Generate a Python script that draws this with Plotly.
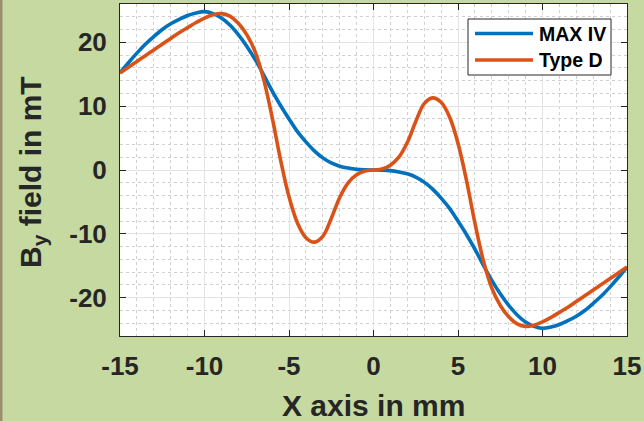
import plotly.graph_objects as go

# Transverse position along the magnet (mm)
x_mm = [-15, -14.5, -14, -13.5, -13, -12.5, -12, -11.5, -11, -10.5, -10,
        -9.5, -9, -8.5, -8, -7.5, -7, -6.5, -6, -5.5, -5,
        -4.5, -4, -3.5, -3, -2.5, -2, -1.5, -1, -0.5, 0,
        0.5, 1, 1.5, 2, 2.5, 3, 3.5, 4, 4.5, 5,
        5.5, 6, 6.5, 7, 7.5, 8, 8.5, 9, 9.5, 10,
        10.5, 11, 11.5, 12, 12.5, 13, 13.5, 14, 14.5, 15]

# Vertical field profile, MAX IV design (mT)
by_max_iv = [15.2, 16.8, 18.3, 19.7, 20.9, 22.0, 22.9, 23.6, 24.2, 24.6, 24.8,
             24.5, 23.8, 22.7, 21.2, 19.4, 17.3, 14.9, 12.4, 10.1, 8.0,
             6.0, 4.4, 3.0, 1.9, 1.1, 0.6, 0.3, 0.1, 0.02, 0.0,
             -0.02, -0.1, -0.3, -0.6, -1.1, -1.9, -3.0, -4.4, -6.0, -8.0,
             -10.1, -12.4, -14.9, -17.3, -19.4, -21.2, -22.7, -23.8, -24.5, -24.8,
             -24.6, -24.2, -23.6, -22.9, -22.0, -20.9, -19.7, -18.3, -16.8, -15.2]

# Vertical field profile, Type D design (mT)
by_type_d = [15.2, 16.1, 17.0, 17.9, 18.8, 19.7, 20.6, 21.5, 22.3, 23.1, 23.8,
             24.3, 24.5, 24.1, 23.0, 21.2, 18.5, 14.2, 8.3, 1.6, -4.2,
             -8.3, -10.6, -11.3, -10.4, -7.6, -4.3, -2.0, -0.75, -0.15, 0.0,
             0.15, 0.75, 2.0, 4.3, 7.6, 10.4, 11.3, 10.6, 8.3, 4.2,
             -1.6, -8.3, -14.2, -18.5, -21.2, -23.0, -24.1, -24.5, -24.3, -23.8,
             -23.1, -22.3, -21.5, -20.6, -19.7, -18.8, -17.9, -17.0, -16.1, -15.2]

series_names = ["MAX IV", "Type D"]
series_colors = ["#0072BD", "#D95319"]
x_ticks = [-15, -10, -5, 0, 5, 10, 15]
x_tick_text = ["-15", "-10", "-5", "0", "5", "10", "15"]
y_ticks = [-20, -10, 0, 10, 20]
y_tick_text = ["-20", "-10", "0", "10", "20"]

W, H = 644, 421
M_L, M_R, M_T, M_B = 120, 17, 4, 85
PLOT_W = W - M_L - M_R
PLOT_H = H - M_T - M_B
FONT = "Liberation Sans, Arial, sans-serif"
INK = "#262626"
BG = "#c5d9a0"


def px_x(p):
    """Pixel column -> paper x."""
    return (p - M_L) / PLOT_W


def px_y(p):
    """Pixel row -> paper y."""
    return (H - M_B - p) / PLOT_H


fig = go.Figure()
for name, ys, col in zip(series_names, [by_max_iv, by_type_d], series_colors):
    fig.add_trace(go.Scatter(
        x=x_mm, y=ys, mode="lines", name=name,
        line=dict(color=col, width=3.6, shape="spline", smoothing=1.0),
        showlegend=False,
    ))

axis_common = dict(
    showline=True, linecolor=INK, linewidth=1, mirror="ticks",
    ticks="inside", ticklen=6, tickcolor=INK, tickwidth=1,
    showgrid=True, gridcolor="#e3e3e3", gridwidth=1,
    zeroline=False,
    tickfont=dict(family=FONT, size=26, color=INK, weight="bold"),
)

fig.update_xaxes(
    range=[-15, 15], tickvals=x_ticks, ticktext=x_tick_text, ticklabelstandoff=7,
    minor=dict(dtick=1, tick0=0, showgrid=True, gridcolor="#d0d0d0",
               griddash="dot", gridwidth=1, ticks=""),
    **axis_common,
)
fig.update_yaxes(
    range=[-26, 26], tickvals=y_ticks, ticktext=y_tick_text, ticklabelstandoff=7,
    minor=dict(dtick=2, tick0=0, showgrid=True, gridcolor="#d0d0d0",
               griddash="dot", gridwidth=1, ticks=""),
    **axis_common,
)

shapes = []
annotations = []

# Legend box drawn by hand so the line samples have the long MATLAB look
shapes.append(dict(type="rect", xref="paper", yref="paper",
                   x0=px_x(468), x1=px_x(611), y0=px_y(75), y1=px_y(19),
                   line=dict(color=INK, width=1), fillcolor="white", layer="above"))
for i, (name, col) in enumerate(zip(series_names, series_colors)):
    row = 33.5 + i * 26.5
    shapes.append(dict(type="line", xref="paper", yref="paper",
                       x0=px_x(475), x1=px_x(533), y0=px_y(row), y1=px_y(row),
                       line=dict(color=col, width=3.6), layer="above"))
    annotations.append(dict(
        text=name, xref="paper", yref="paper", x=px_x(537), y=px_y(row),
        xanchor="left", yanchor="middle", showarrow=False,
        font=dict(family=FONT, size=19.5, color="black", weight="bold"),
    ))

# Axis titles
annotations.append(dict(
    text="X axis in mm", xref="paper", yref="paper",
    x=0.5, y=px_y(405), xanchor="center", yanchor="middle", showarrow=False,
    font=dict(family=FONT, size=30, color=INK, weight="bold"),
))
annotations.append(dict(
    text="B<sub>y</sub> field in mT", xref="paper", yref="paper",
    x=px_x(32), y=px_y(172), xanchor="center", yanchor="middle",
    textangle=-90, showarrow=False,
    font=dict(family=FONT, size=30, color=INK, weight="bold"),
))

# Dark strip along the left border
shapes.append(dict(type="rect", xref="paper", yref="paper",
                   x0=px_x(0), x1=px_x(2.5), y0=px_y(H), y1=px_y(0),
                   line=dict(width=0), fillcolor="#9c8f70", layer="below"))

fig.update_layout(
    width=W, height=H,
    margin=dict(l=M_L, r=M_R, t=M_T, b=M_B),
    paper_bgcolor=BG, plot_bgcolor="white",
    shapes=shapes, annotations=annotations,
    showlegend=False,
)

fig.write_html("out.html")
